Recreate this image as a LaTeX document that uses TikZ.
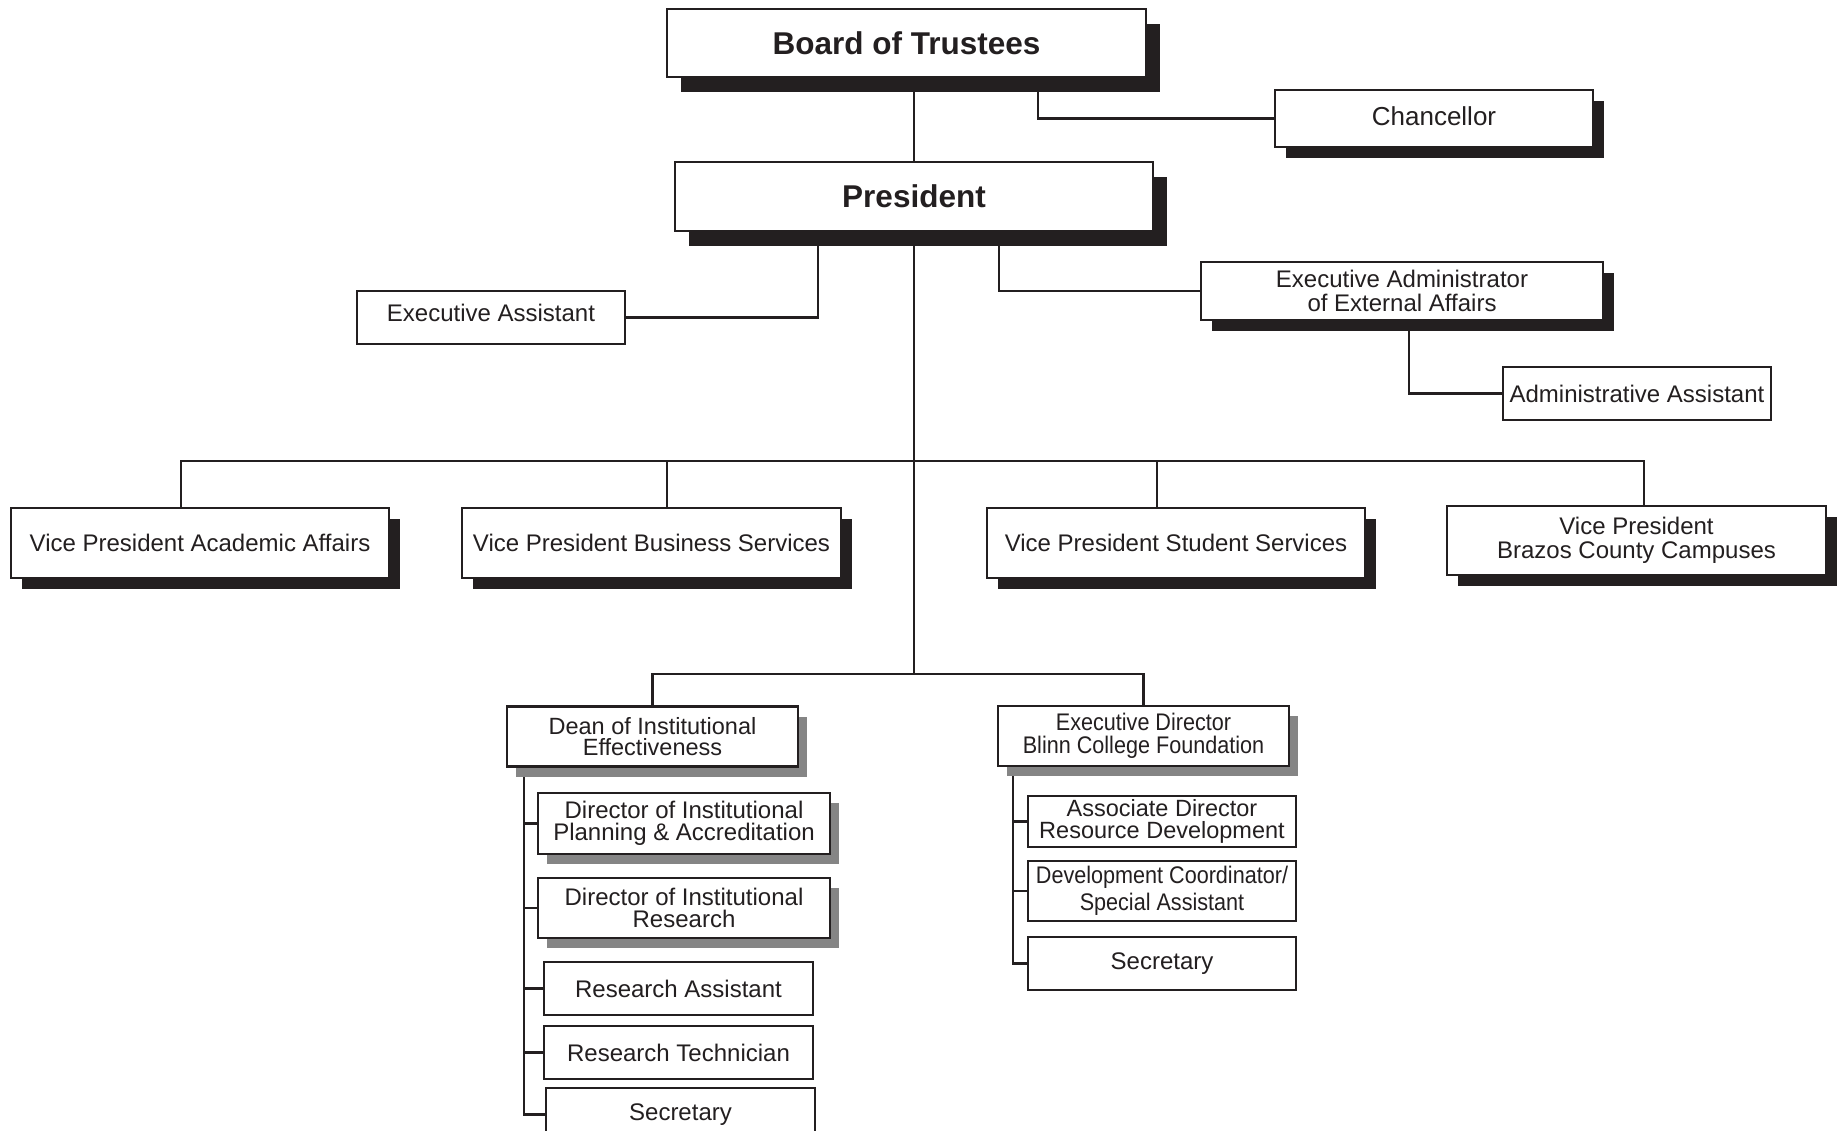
\documentclass[tikz,border=0pt]{standalone}
\usepackage{fontspec}
\setmainfont{Liberation Sans}
\newfontfamily\narrowfont[FakeStretch=0.9]{Liberation Sans}
\usetikzlibrary{shadows}
\pgfdeclarelayer{bottom}
\pgfdeclarelayer{background}
\pgfsetlayers{bottom,background,main}
\definecolor{ink}{HTML}{231F20}
\definecolor{shade}{HTML}{858585}
\begin{document}
\begin{tikzpicture}[x=1pt,y=-1pt,
  box/.style={draw=ink, line width=2.4pt, fill=white, text=ink, inner sep=0pt,
    align=center, font=\fontsize{24}{22}\selectfont},
  bigshadow/.style={general shadow={fill=ink, shadow xshift=14pt, shadow yshift=-15pt}},
  midshadow/.style={general shadow={fill=ink, shadow xshift=11pt, shadow yshift=-11pt}},
  grayshadow/.style={general shadow={fill=shade, shadow xshift=8.5pt, shadow yshift=-10pt}},
  conn/.style={draw=ink, line width=2.4pt, line join=miter}
]
\useasboundingbox (0,0) rectangle (1845,1131);
\begin{pgfonlayer}{bottom}
\fill[white] (0,0) rectangle (1845,1131);
\end{pgfonlayer}

% top
\node[box, bigshadow, minimum width=479pt, minimum height=68pt,
  font=\fontsize{31.5}{34}\selectfont\bfseries] (board) at (906.5,43) {Board of Trustees};
\node[box, bigshadow, minimum width=478pt, minimum height=69pt,
  font=\fontsize{31.5}{34}\selectfont\bfseries] (pres) at (914,196.5) {President};
\node[box, midshadow, minimum width=318pt, minimum height=57pt, text depth=5pt,
  font=\fontsize{26}{26}\selectfont] (chan) at (1434,118.5) {Chancellor};
\node[box, minimum width=268pt, minimum height=53pt, text depth=9pt] (ea) at (491,317.5) {Executive Assistant};
\node[box, midshadow, minimum width=402pt, minimum height=58pt,
  font=\fontsize{24}{23.5}\selectfont] (ext) at (1402,291) {Executive Administrator\\of External Affairs};
\node[box, minimum width=268pt, minimum height=53pt] (adm) at (1637,393.5) {Administrative Assistant};

% vice presidents
\node[box, midshadow, minimum width=378pt, minimum height=70pt] (vpaa) at (200,543) {Vice President Academic Affairs};
\node[box, midshadow, minimum width=379pt, minimum height=70pt] (vpbs) at (651.5,543) {Vice President Business Services};
\node[box, midshadow, minimum width=378pt, minimum height=70pt] (vpss) at (1176,543) {Vice President Student Services};
\node[box, midshadow, minimum width=379pt, minimum height=69pt,
  font=\fontsize{24}{24.5}\selectfont] (vpbz) at (1636.5,540.5) {Vice President\\Brazos County Campuses};

% lower groups
\node[box, grayshadow, minimum width=291pt, minimum height=60pt,
  font=\fontsize{23.5}{21.5}\selectfont] (dean) at (652.5,736.5) {Dean of Institutional\\Effectiveness};
\node[box, grayshadow, minimum width=291pt, minimum height=60pt,
  font=\narrowfont\fontsize{24}{23.5}\selectfont] (fdn) at (1143.5,736) {Executive Director\\Blinn College Foundation};

\node[box, grayshadow, minimum width=292pt, minimum height=61pt,
  font=\fontsize{24}{21.5}\selectfont] (dpa) at (684,823.5) {Director of Institutional\\Planning \& Accreditation};
\node[box, grayshadow, minimum width=292pt, minimum height=60pt,
  font=\fontsize{24}{21.5}\selectfont] (dres) at (684,908) {Director of Institutional\\Research};
\node[box, minimum width=269pt, minimum height=53pt] (rasst) at (678.5,988.5) {Research Assistant};
\node[box, minimum width=269pt, minimum height=53pt] (rtech) at (678.5,1052.5) {Research Technician};
\node[box, minimum width=269pt, minimum height=53pt] (sec1) at (680.5,1114.5) {Secretary};

\node[box, minimum width=268pt, minimum height=51pt,
  font=\fontsize{23.5}{22}\selectfont] (assoc) at (1162,821.5) {Associate Director\\Resource Development};
\node[box, minimum width=268pt, minimum height=60pt,
  font=\narrowfont\fontsize{24}{27}\selectfont] (devc) at (1162,891) {Development Coordinator/\\Special Assistant};
\node[box, minimum width=268pt, minimum height=53pt] (sec2) at (1162,963.5) {Secretary};

\coordinate (vpbar) at (914,461);
\coordinate (lowbar) at (914,674);

\begin{pgfonlayer}{background}
\draw[conn] (pres.north |- board.south) -- (pres.north);
\draw[conn] ([xshift=131.5pt]board.south) |- (chan.west);
\draw[conn] ([xshift=-96pt]pres.south) |- (ea.east);
\draw[conn] ([xshift=85pt]pres.south) |- (ext.west);
\draw[conn] ([xshift=7pt]ext.south) |- (adm.west);
\draw[conn] (pres.south) -- (lowbar);
\draw[conn] ([xshift=-19pt]vpaa.north) |- (vpbar);
\draw[conn] ([xshift=15.5pt]vpbs.north) |- (vpbar);
\draw[conn] ([xshift=-19pt]vpss.north) |- (vpbar);
\draw[conn] ([xshift=7.5pt]vpbz.north) |- (vpbar);
\draw[conn] (dean.north) |- (lowbar);
\draw[conn] (fdn.north) |- (lowbar);
\draw[conn] ([xshift=-128.5pt]dean.south) |- (dpa.west);
\draw[conn] ([xshift=-128.5pt]dean.south) |- (dres.west);
\draw[conn] ([xshift=-128.5pt]dean.south) |- (rasst.west);
\draw[conn] ([xshift=-128.5pt]dean.south) |- (rtech.west);
\draw[conn] ([xshift=-128.5pt]dean.south) |- (sec1.west);
\draw[conn] ([xshift=-130.5pt]fdn.south) |- (assoc.west);
\draw[conn] ([xshift=-130.5pt]fdn.south) |- (devc.west);
\draw[conn] ([xshift=-130.5pt]fdn.south) |- (sec2.west);
\end{pgfonlayer}
\end{tikzpicture}
\end{document}
